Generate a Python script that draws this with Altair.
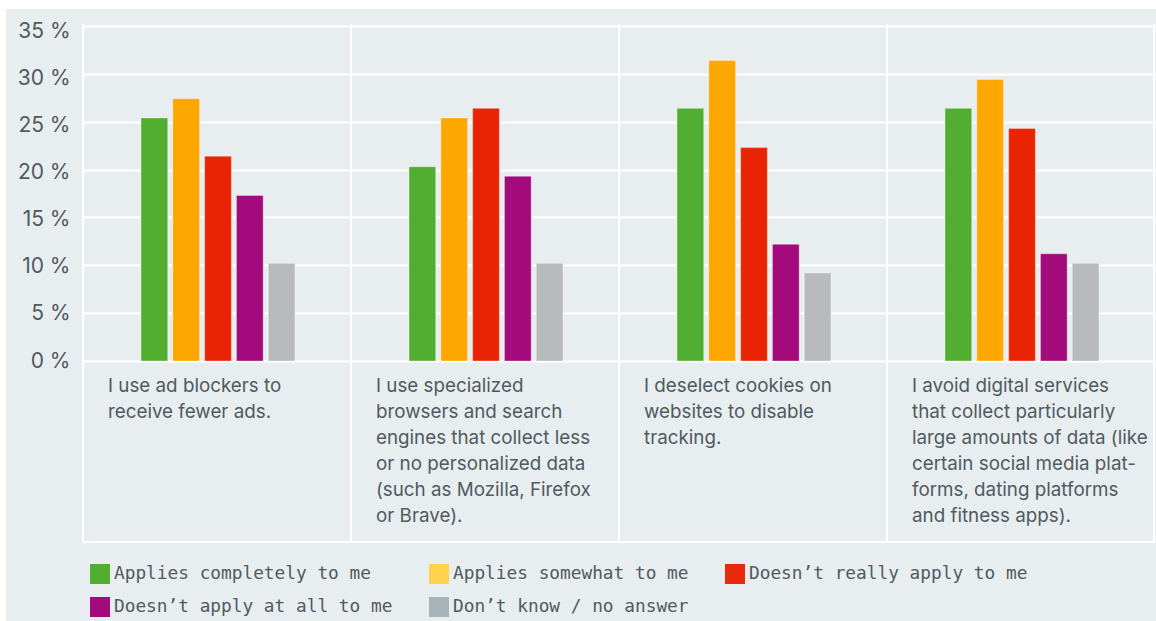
import altair as alt
import pandas as pd

# Survey statements (one panel each) and answer options
statements = [
    "I use ad blockers to\nreceive fewer ads.",
    "I use specialized\nbrowsers and search\nengines that collect less\nor no personalized data\n(such as Mozilla, Firefox\nor Brave).",
    "I deselect cookies on\nwebsites to disable\ntracking.",
    "I avoid digital services\nthat collect particularly\nlarge amounts of data (like\ncertain social media plat-\nforms, dating platforms\nand fitness apps).",
]
answers = [
    "Applies completely to me",
    "Applies somewhat to me",
    "Doesn’t really apply to me",
    "Doesn’t apply at all to me",
    "Don’t know / no answer",
]
# Share of respondents (%) per statement, in the order of `answers`
share_adblock = [25.4, 27.4, 21.4, 17.3, 10.2]
share_browsers = [20.3, 25.4, 26.4, 19.3, 10.2]
share_cookies = [26.4, 31.4, 22.3, 12.2, 9.2]
share_avoid = [26.4, 29.4, 24.3, 11.2, 10.2]

bar_colors = ["#52AE30", "#FCA800", "#E92404", "#A30A7C", "#B9BABC"]
legend_colors = ["#52AE30", "#FFD24C", "#E8290B", "#A30A7C", "#A8B3BA"]

rows = []
for stmt, shares in zip(statements, [share_adblock, share_browsers, share_cookies, share_avoid]):
    for ans, v in zip(answers, shares):
        rows.append({"statement": stmt, "answer": ans, "share": v})
df = pd.DataFrame(rows)
stmt_df = pd.DataFrame({"statement": statements})
one = pd.DataFrame({"k": [0]})

W, H = 1072, 335
BAND = W / len(statements)
BG = "#E8EDEF"
TXT = "#4F5A61"

x_enc = alt.X("statement:N", sort=statements,
              scale=alt.Scale(paddingInner=0, paddingOuter=0), axis=None)
x_start = alt.X("statement:N", sort=statements, bandPosition=0,
                scale=alt.Scale(paddingInner=0, paddingOuter=0), axis=None)
y_enc = alt.Y("share:Q", scale=alt.Scale(domain=[0, 35]),
              axis=alt.Axis(values=[0, 5, 10, 15, 20, 25, 30, 35],
                            labelExpr="datum.value + ' %'", title=None,
                            domain=False, ticks=False, labelFont="Inter",
                            labelFontSize=21, labelColor=TXT, labelPadding=13,
                            labelOffset=alt.ExprRef("datum.value / 7"),
                            gridColor="white", gridWidth=2))
group_w = 154
xoff = alt.XOffset("answer:N", sort=answers,
                   scale=alt.Scale(paddingInner=0.16, paddingOuter=0,
                                   range=[(BAND - group_w) / 2 + 1, (BAND + group_w) / 2 + 1]))

# white margin strips along the top and left of the grey panel
top_strip = alt.Chart(one).mark_rect(color="white").encode(
    x=alt.value(-83), x2=alt.value(W + 1), y=alt.value(-26), y2=alt.value(-17))
left_strip = alt.Chart(one).mark_rect(color="white").encode(
    x=alt.value(-83), x2=alt.value(-77), y=alt.value(-26), y2=alt.value(H + 260))

bars = alt.Chart(df).mark_bar(stroke="white", strokeOpacity=0.35, strokeWidth=1).encode(
    x=x_enc, xOffset=xoff, y=y_enc,
    color=alt.Color("answer:N", sort=answers,
                    scale=alt.Scale(domain=answers, range=bar_colors), legend=None),
)

# invisible layer that only carries the legend swatches
legend_layer = alt.Chart(df).mark_point(filled=True, shape="square", opacity=0).encode(
    x=x_enc, xOffset=xoff, y="share:Q",
    color=alt.Color("answer:N", sort=answers,
                    scale=alt.Scale(domain=answers, range=legend_colors),
                    legend=alt.Legend(orient="none", legendX=7, legendY=538,
                                      direction="horizontal", columns=3, title=None,
                                      symbolType="square", symbolSize=400,
                                      symbolStrokeWidth=0, symbolOpacity=1,
                                      labelFont="DejaVu Sans Mono", labelFontSize=17.8,
                                      labelColor=TXT, labelOffset=4, rowPadding=13,
                                      columnPadding=36, labelLimit=400)),
)

separators = alt.Chart(stmt_df).mark_rule(color="white", strokeWidth=2).encode(
    x=x_start, y=alt.value(-2), y2=alt.value(H + 181))
right_edge = alt.Chart(one).mark_rule(color="white", strokeWidth=2).encode(
    x=alt.value(W - 1), y=alt.value(-2), y2=alt.value(H + 181))
bottom_edge = alt.Chart(one).mark_rule(color="white", strokeWidth=2).encode(
    x=alt.value(0), x2=alt.value(W), y=alt.value(H + 181))

labels = alt.Chart(stmt_df).mark_text(
    align="left", baseline="top", dx=25, lineBreak="\n", lineHeight=26,
    font="Inter", fontSize=18.8, color=TXT,
).encode(x=x_start, y=alt.value(H + 16), text="statement:N")

chart = (
    alt.layer(top_strip, left_strip, separators, right_edge, bottom_edge,
              bars, legend_layer, labels)
    .resolve_scale(color="independent")
    .properties(width=W, height=H, background=BG,
                padding={"left": 83, "top": 26, "right": 1, "bottom": 260},
                autosize=alt.AutoSizeParams(type="none"))
    .configure_view(stroke=None)
)

chart.save("out.html", embed_options={"renderer": "svg", "actions": False})
